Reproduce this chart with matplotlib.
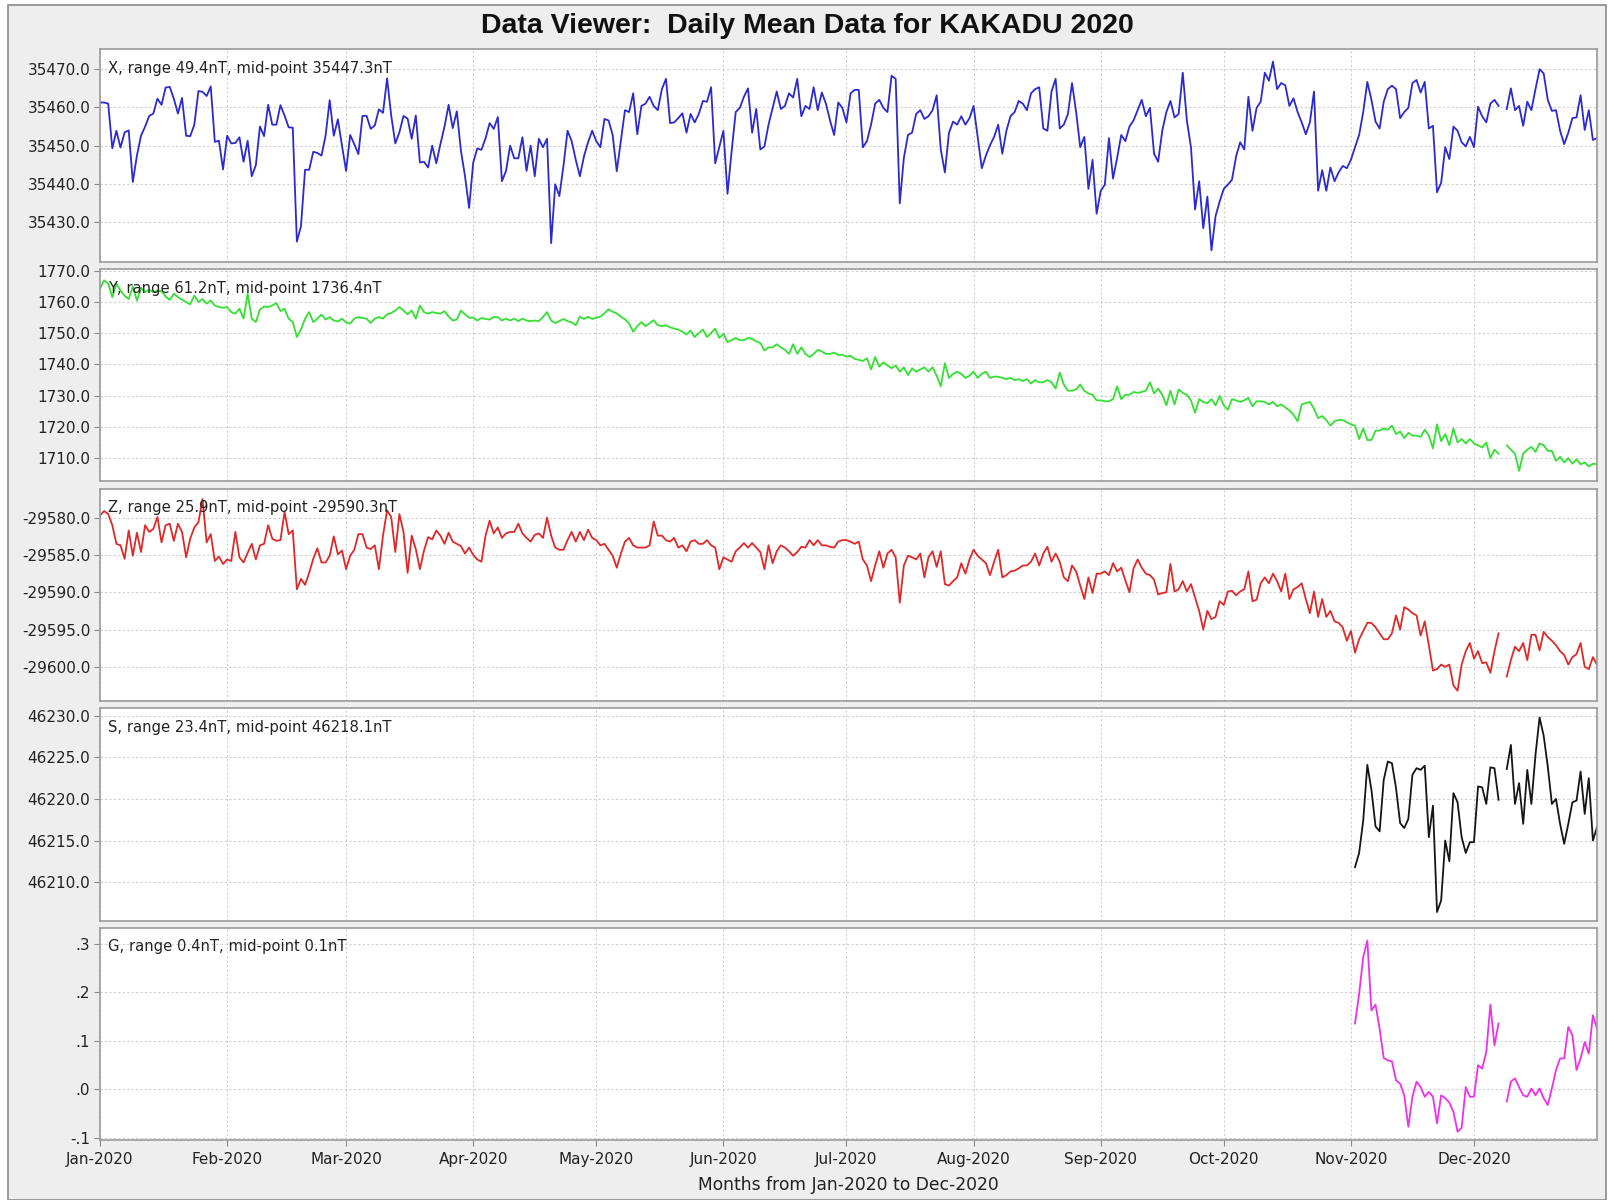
import numpy as np
import matplotlib
matplotlib.use('Agg')
import matplotlib.pyplot as plt
import matplotlib.dates as mdates
from matplotlib.patches import Rectangle
from matplotlib.ticker import FixedLocator, FuncFormatter

nan = float('nan')

title = "Data Viewer:  Daily Mean Data for KAKADU 2020"
xlabel = "Months from Jan-2020 to Dec-2020"
labels = ["X, range 49.4nT, mid-point 35447.3nT",
          "Y, range 61.2nT, mid-point 1736.4nT",
          "Z, range 25.9nT, mid-point -29590.3nT",
          "S, range 23.4nT, mid-point 46218.1nT",
          "G, range 0.4nT, mid-point 0.1nT"]

x_vals = [
35461.3, 35461.3, 35461.0, 35449.3, 35453.9, 35449.5, 35453.5, 35454.0, 35440.5, 35447.4,
35452.6, 35455.0, 35457.8, 35458.4, 35462.3, 35460.7, 35465.2, 35465.4, 35462.3, 35458.4,
35462.5, 35452.6, 35452.5, 35455.5, 35464.3, 35464.1, 35463.0, 35465.5, 35451.0, 35451.3,
35443.8, 35452.6, 35450.6, 35450.7, 35452.2, 35445.8, 35451.3, 35442.0, 35444.9, 35455.0,
35452.5, 35460.7, 35455.5, 35455.5, 35460.6, 35457.9, 35454.8, 35454.7, 35424.9, 35428.9,
35443.7, 35443.7, 35448.4, 35448.1, 35447.4, 35452.6, 35461.9, 35452.6, 35456.9, 35450.0,
35443.4, 35452.8, 35450.4, 35447.8, 35457.8, 35457.8, 35454.4, 35455.3, 35459.5, 35458.6,
35467.6, 35457.9, 35450.6, 35453.5, 35457.8, 35457.1, 35451.8, 35457.9, 35445.6, 35445.8,
35444.3, 35450.0, 35445.4, 35450.4, 35455.0, 35460.7, 35454.6, 35459.0, 35448.7, 35442.0,
35433.7, 35445.6, 35449.3, 35448.9, 35451.9, 35455.9, 35454.4, 35457.5, 35440.7, 35443.4,
35450.0, 35446.7, 35446.7, 35452.2, 35443.4, 35450.0, 35442.0, 35451.8, 35449.6, 35451.8,
35424.5, 35439.9, 35436.8, 35444.7, 35453.9, 35451.2, 35446.3, 35442.0, 35447.2, 35450.9,
35453.9, 35451.2, 35449.6, 35457.0, 35456.6, 35452.8, 35443.3, 35451.2, 35459.3, 35458.8,
35463.7, 35453.0, 35460.4, 35461.0, 35462.8, 35460.4, 35459.3, 35464.8, 35467.5, 35455.9,
35456.1, 35457.2, 35458.5, 35453.4, 35458.3, 35456.1, 35458.3, 35461.7, 35461.5, 35465.3,
35445.4, 35449.6, 35453.9, 35437.4, 35448.5, 35458.8, 35459.9, 35462.8, 35465.0, 35453.4,
35459.6, 35449.0, 35449.8, 35455.5, 35459.9, 35464.2, 35459.6, 35460.4, 35463.7, 35462.6,
35467.5, 35457.7, 35460.4, 35459.6, 35465.3, 35459.3, 35463.9, 35461.0, 35456.6, 35452.8,
35461.3, 35459.9, 35456.1, 35463.7, 35464.6, 35464.6, 35449.6, 35451.2, 35455.5, 35461.0,
35462.0, 35459.9, 35458.8, 35468.3, 35467.5, 35434.9, 35446.8, 35452.8, 35453.4, 35458.3,
35459.3, 35457.0, 35457.7, 35459.3, 35463.2, 35449.0, 35443.0, 35453.4, 35456.3, 35455.5,
35457.7, 35455.5, 35457.2, 35460.4, 35452.3, 35444.1, 35447.4, 35450.1, 35452.3, 35455.5,
35447.9, 35453.9, 35457.7, 35458.8, 35461.7, 35461.0, 35459.3, 35463.7, 35464.8, 35465.3,
35454.5, 35453.9, 35464.2, 35467.5, 35454.5, 35455.5, 35458.3, 35466.4, 35458.8, 35449.6,
35452.3, 35438.7, 35446.3, 35432.2, 35438.2, 35439.8, 35452.0, 35441.4, 35446.8, 35452.8,
35451.2, 35455.0, 35456.6, 35459.3, 35462.0, 35457.7, 35459.9, 35447.9, 35445.8, 35453.9,
35458.8, 35461.7, 35457.4, 35458.3, 35469.1, 35456.6, 35449.6, 35433.3, 35440.7, 35428.4,
35436.7, 35422.6, 35431.6, 35435.4, 35438.7, 35439.8, 35441.1, 35447.2, 35450.9, 35449.0,
35462.8, 35453.9, 35459.9, 35461.5, 35469.1, 35467.0, 35472.0, 35464.8, 35466.4, 35465.8,
35460.4, 35462.4, 35458.8, 35456.1, 35453.0, 35456.1, 35464.2, 35438.2, 35443.6, 35438.2,
35444.3, 35440.7, 35443.0, 35444.7, 35444.1, 35446.3, 35449.6, 35452.8, 35458.8, 35466.7,
35462.0, 35456.3, 35454.5, 35461.5, 35464.8, 35465.7, 35464.8, 35457.2, 35458.8, 35459.9,
35466.4, 35467.2, 35463.9, 35466.7, 35454.5, 35455.2, 35437.8, 35440.3, 35449.6, 35446.5,
35455.0, 35453.9, 35450.9, 35449.8, 35452.3, 35449.6, 35460.2, 35457.7, 35456.1, 35461.0,
35462.0, 35460.4, nan, 35459.6, 35465.0, 35459.3, 35460.4, 35455.2, 35461.5, 35459.3,
35464.8, 35470.0, 35468.9, 35462.0, 35459.1, 35459.3, 35453.9, 35450.4, 35453.4, 35457.2,
35457.4, 35463.2, 35454.1, 35459.3, 35451.5, 35452.0]

y_vals = [
1764.3, 1767.0, 1765.9, 1761.6, 1765.9, 1763.7, 1762.0, 1761.0, 1765.0, 1760.5,
1764.6, 1763.2, 1763.9, 1763.2, 1763.7, 1763.5, 1761.8, 1760.7, 1762.7, 1761.6,
1760.8, 1760.0, 1759.3, 1762.1, 1760.0, 1761.0, 1759.5, 1760.5, 1758.9, 1758.4,
1758.2, 1758.4, 1756.8, 1756.3, 1757.9, 1754.7, 1762.7, 1754.7, 1753.6, 1757.6,
1758.6, 1758.4, 1758.9, 1759.7, 1757.1, 1757.9, 1754.7, 1753.6, 1748.8, 1751.2,
1754.7, 1756.8, 1753.6, 1754.7, 1756.0, 1754.4, 1755.2, 1754.1, 1753.8, 1754.7,
1753.5, 1753.1, 1754.7, 1755.2, 1754.9, 1754.7, 1753.3, 1754.7, 1755.2, 1754.7,
1756.1, 1756.5, 1757.3, 1758.4, 1757.3, 1756.1, 1757.3, 1754.7, 1758.9, 1756.8,
1756.3, 1756.8, 1756.5, 1756.3, 1757.1, 1755.4, 1754.1, 1754.4, 1757.3, 1756.1,
1755.0, 1755.0, 1754.1, 1754.9, 1754.6, 1754.4, 1755.2, 1755.2, 1754.1, 1754.7,
1754.1, 1754.7, 1753.9, 1754.7, 1754.1, 1753.9, 1754.1, 1753.9, 1755.2, 1756.8,
1754.1, 1753.3, 1753.9, 1754.6, 1753.9, 1753.5, 1752.6, 1755.3, 1754.6, 1755.3,
1754.6, 1755.0, 1755.3, 1756.4, 1757.7, 1756.9, 1756.4, 1755.3, 1754.5, 1753.2,
1750.5, 1752.3, 1753.6, 1752.3, 1753.2, 1754.2, 1752.6, 1752.3, 1752.6, 1751.9,
1751.5, 1751.2, 1750.5, 1749.6, 1750.9, 1748.8, 1750.1, 1751.2, 1748.8, 1750.1,
1751.5, 1748.5, 1749.9, 1747.2, 1747.8, 1748.5, 1747.8, 1747.8, 1748.5, 1748.2,
1747.4, 1746.9, 1744.5, 1745.5, 1745.5, 1746.5, 1745.5, 1744.7, 1743.4, 1746.5,
1743.4, 1745.5, 1743.4, 1742.4, 1743.4, 1744.7, 1744.2, 1743.4, 1743.4, 1743.8,
1743.1, 1743.1, 1742.5, 1742.8, 1741.8, 1741.5, 1741.1, 1742.0, 1738.4, 1742.4,
1739.3, 1740.7, 1739.7, 1738.8, 1739.7, 1737.7, 1739.1, 1736.6, 1738.8, 1737.7,
1738.4, 1739.1, 1737.7, 1739.1, 1736.4, 1733.0, 1740.4, 1735.7, 1737.0, 1737.7,
1737.0, 1735.7, 1736.4, 1737.7, 1735.7, 1737.0, 1737.7, 1735.7, 1736.1, 1736.1,
1735.7, 1735.3, 1735.7, 1735.0, 1735.3, 1734.7, 1735.3, 1733.9, 1735.0, 1734.3,
1734.3, 1735.0, 1734.3, 1732.3, 1737.4, 1733.6, 1731.6, 1731.6, 1732.0, 1733.6,
1731.6, 1730.7, 1730.3, 1728.5, 1728.5, 1728.2, 1728.2, 1728.9, 1733.0, 1728.9,
1730.3, 1730.3, 1731.2, 1730.9, 1731.2, 1731.6, 1734.3, 1730.7, 1732.3, 1730.3,
1726.9, 1731.6, 1727.2, 1732.0, 1730.9, 1730.3, 1728.5, 1724.5, 1728.9, 1728.0,
1727.6, 1728.9, 1726.9, 1729.9, 1726.9, 1725.5, 1728.9, 1728.5, 1728.0, 1728.5,
1729.3, 1726.6, 1728.2, 1728.2, 1728.0, 1727.2, 1728.0, 1726.6, 1727.2, 1726.2,
1725.3, 1723.9, 1721.8, 1727.2, 1727.6, 1728.0, 1725.8, 1722.8, 1723.5, 1722.2,
1720.4, 1721.8, 1722.2, 1722.2, 1721.5, 1720.8, 1720.4, 1716.1, 1719.5, 1715.8,
1715.8, 1718.8, 1718.8, 1719.5, 1719.1, 1720.4, 1717.7, 1718.5, 1716.4, 1718.1,
1717.2, 1717.2, 1716.8, 1719.1, 1717.2, 1713.1, 1720.8, 1715.4, 1717.7, 1714.1,
1719.5, 1715.0, 1716.1, 1714.7, 1716.1, 1714.7, 1714.1, 1713.4, 1715.0, 1710.0,
1712.7, 1711.4, nan, 1714.1, 1712.7, 1711.4, 1705.9, 1711.4, 1712.7, 1713.6,
1712.0, 1714.7, 1714.1, 1712.3, 1712.3, 1709.1, 1710.4, 1708.6, 1710.0, 1708.2,
1709.6, 1708.0, 1708.6, 1707.3, 1708.2, 1708.0]

z_vals = [
-29579.7, -29579.1, -29579.5, -29581.0, -29583.5, -29583.7, -29585.5, -29581.7, -29585.1, -29582.0,
-29584.6, -29581.0, -29581.9, -29581.5, -29579.9, -29583.3, -29581.0, -29580.8, -29583.1, -29580.8,
-29581.9, -29585.3, -29582.8, -29581.3, -29580.6, -29577.5, -29583.3, -29582.2, -29585.8, -29585.2,
-29586.2, -29585.6, -29585.8, -29581.9, -29585.3, -29586.0, -29584.7, -29583.5, -29585.6, -29583.7,
-29583.5, -29581.0, -29582.8, -29583.1, -29583.0, -29579.2, -29582.2, -29581.7, -29589.6, -29588.2,
-29589.0, -29587.4, -29585.5, -29584.1, -29586.0, -29586.0, -29585.1, -29582.5, -29584.9, -29584.4,
-29586.9, -29585.1, -29584.3, -29582.2, -29582.2, -29584.0, -29584.2, -29583.7, -29586.9, -29582.4,
-29579.0, -29579.9, -29584.6, -29579.5, -29581.9, -29587.4, -29582.4, -29584.2, -29586.9, -29584.4,
-29582.6, -29582.9, -29581.7, -29582.4, -29583.5, -29582.0, -29583.2, -29583.5, -29583.8, -29584.8,
-29584.0, -29585.0, -29585.6, -29585.9, -29582.4, -29580.4, -29582.1, -29581.3, -29582.7, -29582.1,
-29581.9, -29581.9, -29580.8, -29582.1, -29582.7, -29583.2, -29582.3, -29582.1, -29582.7, -29580.0,
-29582.4, -29584.0, -29584.3, -29584.3, -29583.0, -29581.9, -29583.2, -29581.9, -29583.0, -29581.6,
-29582.7, -29583.0, -29583.7, -29583.5, -29584.3, -29585.1, -29586.7, -29584.8, -29583.2, -29582.7,
-29583.7, -29584.0, -29584.0, -29584.0, -29583.7, -29580.5, -29582.4, -29582.4, -29583.0, -29583.2,
-29582.7, -29584.0, -29583.7, -29584.5, -29583.2, -29583.0, -29583.5, -29583.5, -29583.0, -29583.7,
-29584.0, -29586.9, -29585.3, -29585.6, -29585.9, -29584.5, -29584.0, -29583.4, -29584.0, -29583.4,
-29584.0, -29584.6, -29586.9, -29583.7, -29586.1, -29584.5, -29583.7, -29584.0, -29584.5, -29585.1,
-29584.6, -29583.9, -29584.0, -29583.0, -29583.7, -29583.0, -29583.7, -29583.7, -29583.9, -29584.0,
-29583.2, -29583.0, -29583.0, -29583.2, -29583.5, -29583.2, -29585.6, -29586.4, -29588.5, -29586.4,
-29584.5, -29586.7, -29584.8, -29584.3, -29585.3, -29591.4, -29586.4, -29585.1, -29585.3, -29585.6,
-29584.8, -29588.0, -29585.3, -29584.5, -29586.6, -29584.5, -29588.9, -29589.1, -29588.5, -29588.0,
-29586.1, -29587.5, -29585.6, -29584.3, -29585.1, -29585.6, -29586.1, -29587.7, -29585.9, -29584.3,
-29588.0, -29587.7, -29587.2, -29587.1, -29586.8, -29586.4, -29586.4, -29585.9, -29584.8, -29586.4,
-29584.8, -29583.9, -29585.9, -29584.8, -29585.9, -29588.0, -29588.5, -29586.4, -29587.2, -29589.1,
-29590.9, -29588.0, -29590.1, -29587.5, -29587.5, -29587.2, -29587.7, -29586.1, -29587.2, -29586.7,
-29588.4, -29590.0, -29586.8, -29585.6, -29586.7, -29587.5, -29587.7, -29588.3, -29590.3, -29590.1,
-29590.0, -29586.2, -29589.9, -29589.6, -29588.5, -29589.9, -29588.9, -29590.7, -29592.5, -29595.0,
-29592.5, -29593.6, -29593.3, -29591.2, -29591.7, -29589.9, -29589.8, -29590.4, -29589.9, -29589.6,
-29587.2, -29591.2, -29591.0, -29588.8, -29588.0, -29588.8, -29587.5, -29588.5, -29589.9, -29587.5,
-29590.9, -29589.6, -29589.3, -29588.8, -29590.9, -29592.8, -29589.9, -29593.3, -29590.9, -29593.3,
-29592.5, -29593.9, -29594.1, -29594.7, -29596.5, -29595.2, -29598.1, -29596.3, -29595.2, -29594.1,
-29594.1, -29594.7, -29595.5, -29596.3, -29596.3, -29595.5, -29593.1, -29595.0, -29592.0, -29592.3,
-29592.8, -29593.1, -29595.8, -29593.9, -29597.1, -29600.5, -29600.3, -29599.7, -29600.0, -29599.7,
-29602.5, -29603.2, -29599.7, -29597.9, -29596.8, -29598.9, -29597.9, -29599.5, -29599.4, -29600.8,
-29597.9, -29595.5, nan, -29601.3, -29599.1, -29597.3, -29597.9, -29596.8, -29599.1, -29595.7,
-29595.7, -29597.8, -29595.3, -29596.0, -29596.5, -29597.1, -29597.9, -29598.4, -29599.7, -29598.7,
-29598.3, -29596.8, -29600.0, -29600.3, -29598.7, -29599.7]

s_start = '2020-11-02'
s_vals = [
46211.8, 46213.5, 46217.4, 46224.1, 46221.1, 46216.7, 46216.1, 46222.3, 46224.5, 46224.3,
46221.3, 46217.1, 46216.5, 46217.6, 46222.9, 46223.7, 46223.5, 46224.0, 46215.4, 46219.2,
46206.4, 46207.8, 46215.0, 46212.5, 46220.7, 46219.6, 46215.4, 46213.5, 46214.8, 46214.8,
46221.5, 46221.4, 46219.4, 46223.8, 46223.7, 46219.9, nan, 46223.6, 46226.5, 46219.4,
46221.9, 46217.0, 46223.5, 46219.4, 46225.3, 46229.8, 46227.6, 46223.9, 46219.4, 46220.0,
46217.0, 46214.6, 46217.0, 46219.6, 46219.8, 46223.3, 46218.2, 46222.5, 46215.0, 46216.6]

g_vals = [
0.136, 0.197, 0.273, 0.307, 0.163, 0.175, 0.125, 0.065, 0.060, 0.058,
0.019, 0.012, -0.012, -0.077, -0.015, 0.016, 0.005, -0.015, -0.005, -0.015,
-0.070, -0.012, -0.018, -0.027, -0.046, -0.087, -0.079, 0.005, -0.015, -0.015,
0.050, 0.043, 0.077, 0.175, 0.091, 0.136, nan, -0.025, 0.016, 0.023,
0.005, -0.012, -0.015, 0.002, -0.012, 0.002, -0.018, -0.032, 0.002, 0.040,
0.064, 0.064, 0.129, 0.112, 0.040, 0.064, 0.098, 0.074, 0.153, 0.125]

x_ticks = [35430, 35440, 35450, 35460, 35470]
y_ticks = [1710, 1720, 1730, 1740, 1750, 1760, 1770]
z_ticks = [-29600, -29595, -29590, -29585, -29580]
s_ticks = [46210, 46215, 46220, 46225, 46230]
g_ticks = [-0.1, 0.0, 0.1, 0.2, 0.3]

colors = ['#2a2ad0', '#33e033', '#e02828', '#151515', '#ee30ee']
ylims = [(35419.6, 35475.2), (1702.5, 1770.6), (-29604.6, -29576.1),
         (46205.35, 46230.9), (-0.105, 0.333)]

dates_all = np.arange(np.datetime64('2020-01-01'), np.datetime64('2021-01-01'))
dates_sg = np.arange(np.datetime64(s_start), np.datetime64('2021-01-01'))

W, H = 1614, 1200
fig = plt.figure(figsize=(W / 100, H / 100), dpi=100)
fig.patch.set_facecolor('white')
fig.patches.append(Rectangle((8 / W, 0), (1606 - 8) / W, (H - 5) / H,
                             transform=fig.transFigure, facecolor='#eeeeee',
                             edgecolor='#8a8a8a', linewidth=1.2, zorder=-10))

left, right = 100, 1597
top0, bottom_last = 49.4, 1140.4
gap = 7.2
ph = (bottom_last - top0 - 4 * gap) / 5

series = [(dates_all, x_vals), (dates_all, y_vals), (dates_all, z_vals),
          (dates_sg, s_vals), (dates_sg, g_vals)]
tick_sets = [x_ticks, y_ticks, z_ticks, s_ticks, g_ticks]

def fmt_g(v, pos):
    s = f"{v:.1f}"
    s = s.replace('0.', '.', 1) if s.startswith('0.') else s.replace('-0.', '-.', 1)
    return s

axes = []
for i in range(5):
    t = top0 + i * (ph + gap)
    ax = fig.add_axes([left / W, 1 - (t + ph) / H, (right - left) / W, ph / H])
    axes.append(ax)
    d, v = series[i]
    ax.plot(d, np.array(v, dtype=float), color=colors[i], linewidth=1.3)
    ax.set_xlim(np.datetime64('2020-01-01'), np.datetime64('2020-12-31'))
    ax.set_ylim(*ylims[i])
    ax.yaxis.set_major_locator(FixedLocator(tick_sets[i]))
    if i == 4:
        ax.yaxis.set_major_formatter(FuncFormatter(fmt_g))
    else:
        ax.yaxis.set_major_formatter(FuncFormatter(lambda v, p: f"{v:.1f}"))
    ax.xaxis.set_major_locator(mdates.MonthLocator())
    ax.xaxis.set_major_formatter(mdates.DateFormatter('%b-%Y'))
    ax.grid(True, color='#cfcfcf', linestyle=(0, (2, 2)), linewidth=0.8)
    for sp in ax.spines.values():
        sp.set_color('#9a9a9a')
        sp.set_linewidth(1.2)
    ax.tick_params(axis='y', direction='out', length=4, width=0.8, color='#8a8a8a',
                   labelsize=11, labelcolor='#222222', pad=3)
    if i < 4:
        ax.tick_params(axis='x', length=0, labelbottom=False)
    else:
        ax.tick_params(axis='x', direction='out', length=4, width=0.8, color='#8a8a8a',
                       labelsize=11, labelcolor='#222222', pad=4)
    ax.text(8 / (right - left), 1 - 19 / ph, labels[i], transform=ax.transAxes,
            fontsize=10.6, color='#222222', ha='left', va='center')
    ax.set_facecolor('white')

axes[4].set_xlabel(xlabel, fontsize=12.3, color='#222222', labelpad=7)
fig.text(0.5, 1 - 26 / H, title, ha='center', va='center', fontsize=20.5,
         fontweight='bold', family=['Liberation Sans', 'DejaVu Sans'], color='#111111')

fig.savefig('out.png', dpi=100, facecolor=fig.get_facecolor())
